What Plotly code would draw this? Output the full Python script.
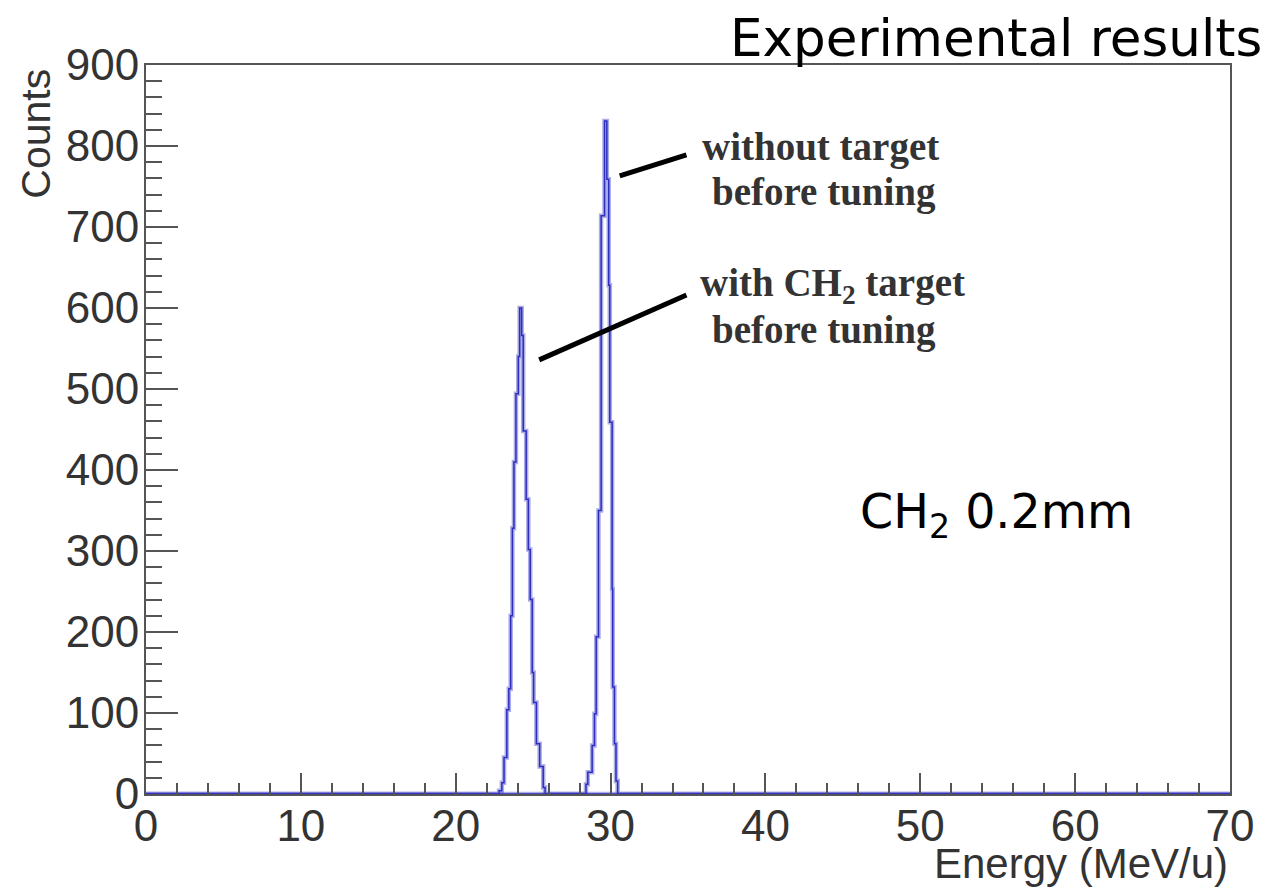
import plotly.graph_objects as go

# Histogram bins (bin edges in MeV/u, counts per bin)
peak1_edges = [22.80, 22.98, 23.12, 23.30, 23.43, 23.55, 23.66, 23.76, 23.89, 24.04, 24.13,
               24.26, 24.36, 24.55, 24.69, 24.81, 24.94, 25.03, 25.21, 25.42, 25.65, 25.77]
peak1_counts = [4, 14, 45, 104, 130, 220, 328, 410, 494, 540, 600,
                566, 448, 364, 302, 240, 150, 113, 62, 34, 8]

peak2_edges = [28.41, 28.53, 28.81, 28.96, 29.07, 29.22, 29.39, 29.61, 29.76, 29.88, 29.95,
               30.10, 30.14, 30.25, 30.35, 30.46]
peak2_counts = [12, 27, 60, 99, 194, 350, 714, 831, 759, 628, 459, 253, 132, 62, 16]

x_range = [0, 70]
y_range = [0, 900]


def step_xy(edges, counts):
    xs = [x_range[0]] + list(edges) + [x_range[1]]
    ys = [0] + list(counts) + [0, 0]
    return xs, ys


fig = go.Figure()
for edges, counts in [(peak1_edges, peak1_counts), (peak2_edges, peak2_counts)]:
    xs, ys = step_xy(edges, counts)
    fig.add_trace(go.Scatter(x=xs, y=ys, mode="lines", line_shape="hv",
                             line=dict(color="rgba(70,70,200,0.45)", width=4.5),
                             hoverinfo="skip", showlegend=False))
    fig.add_trace(go.Scatter(x=xs, y=ys, mode="lines", line_shape="hv",
                             line=dict(color="rgb(45,45,190)", width=1.5),
                             showlegend=False))

tick_font = dict(family="Liberation Sans, Arial, sans-serif", size=44, color="#333333")

fig.update_xaxes(range=x_range, dtick=10, tick0=0, ticks="inside", ticklen=21, tickwidth=2,
                 tickcolor="#555555", tickfont=tick_font, showline=True, linecolor="#555555",
                 linewidth=2, mirror=True, showgrid=False, zeroline=False,
                 ticklabelstandoff=-8,
                 minor=dict(dtick=2, ticks="inside", ticklen=11, tickwidth=1.5, tickcolor="#555555"))
fig.update_yaxes(range=y_range, dtick=100, tick0=0, ticks="inside", ticklen=32, tickwidth=2,
                 tickcolor="#555555", tickfont=tick_font, showline=True, linecolor="#555555",
                 linewidth=2, mirror=True, showgrid=False, zeroline=False,
                 ticklabelstandoff=-4,
                 minor=dict(dtick=20, ticks="inside", ticklen=16, tickwidth=1.5, tickcolor="#555555"))

serif = dict(family="Liberation Serif, Times New Roman, serif", size=39, color="#333333")

fig.update_layout(
    width=1266, height=889, autosize=False,
    margin=dict(l=146, r=31, t=65, b=95),
    plot_bgcolor="white", paper_bgcolor="white",
    annotations=[
        dict(text="Counts", xref="paper", yref="paper", x=-0.101, y=0.997, textangle=-90,
             xanchor="center", yanchor="top", showarrow=False,
             font=dict(family="Liberation Sans, Arial, sans-serif", size=41, color="#333333")),
        dict(text="Energy (MeV/u)", xref="paper", yref="paper", x=1.0, y=-0.096,
             xanchor="right", yanchor="middle", showarrow=False,
             font=dict(family="Liberation Sans, Arial, sans-serif", size=42, color="#333333")),
        dict(text="Experimental results", xref="paper", yref="paper", x=1.031, y=1.037,
             xanchor="right", yanchor="middle", showarrow=False,
             font=dict(family="DejaVu Sans, sans-serif", size=51.5, color="black")),
        dict(text="CH<sub>2</sub> 0.2mm", xref="x", yref="y", x=46.0, y=344,
             xanchor="left", yanchor="middle", showarrow=False,
             font=dict(family="DejaVu Sans, sans-serif", size=47.5, color="black")),
        dict(text="<b>without target</b>", xref="x", yref="y", x=43.57, y=799,
             xanchor="center", yanchor="middle", showarrow=False, font=serif),
        dict(text="<b>before tuning</b>", xref="x", yref="y", x=43.77, y=743,
             xanchor="center", yanchor="middle", showarrow=False, font=serif),
        dict(text="<b>with CH<sub>2</sub> target</b>", xref="x", yref="y", x=44.34, y=628,
             xanchor="center", yanchor="middle", showarrow=False, font=serif),
        dict(text="<b>before tuning</b>", xref="x", yref="y", x=43.77, y=573,
             xanchor="center", yanchor="middle", showarrow=False, font=serif),
    ],
    shapes=[
        dict(type="line", xref="x", yref="y", x0=30.59, y0=763, x1=34.90, y1=789,
             line=dict(color="black", width=5)),
        dict(type="line", xref="x", yref="y", x0=25.39, y0=536, x1=34.90, y1=616,
             line=dict(color="black", width=5)),
    ],
)

fig.write_html("out.html")
